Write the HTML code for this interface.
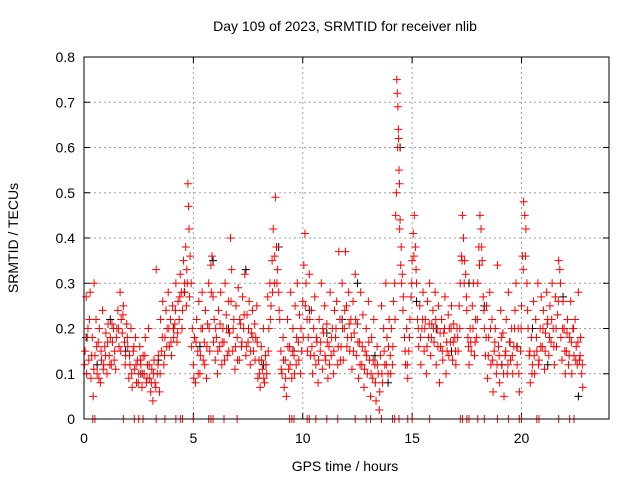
<!DOCTYPE html>
<html><head><meta charset="utf-8"><style>
body{margin:0;background:#fff;font-family:"Liberation Sans",sans-serif;}
svg text{font-family:"Liberation Sans",sans-serif;font-size:14px;fill:#000;}
</style></head><body>
<svg id="chart" width="640" height="480" viewBox="0 0 640 480">
<rect width="640" height="480" fill="#fff"/>
<text x="345" y="31" text-anchor="middle">Day 109 of 2023, SRMTID for receiver nlib</text>
<g id="grid"></g>
<g id="axes"></g>
<g id="marks"></g>
<rect x="84" y="57" width="525" height="362" fill="none" stroke="#000" stroke-width="1"/>
<text x="345" y="471" text-anchor="middle">GPS time / hours</text>
<text transform="translate(18,238) rotate(-90)" text-anchor="middle">SRMTID / TECUs</text>
</svg>
<script>
const xTicks=[0,5,10,15,20];
const yTicks=[0,0.1,0.2,0.3,0.4,0.5,0.6,0.7,0.8];
const yTickLabels=["0","0.1","0.2","0.3","0.4","0.5","0.6","0.7","0.8"];
const redPts=[
[0.05,0.15],[0.1,0.27],[0.12,0.1],[0.18,0.2],[0.22,0.13],[0.28,0.28],[0.32,0.09],[0.38,0.18],[0.42,0.05],[0.46,0.3],[0.5,0.14],[0.55,0.22],[0.6,0.1],[0.65,0.17],[0.7,0.2],[0.75,0.08],[0.8,0.13],[0.85,0.24],[0.9,0.12],[0.95,0.16],
[1.0,0.19],[1.05,0.1],[1.1,0.21],[1.15,0.14],[1.2,0.18],[1.25,0.12],[1.3,0.17],[1.35,0.2],[1.4,0.15],[1.45,0.11],[1.5,0.2],[1.55,0.24],[1.6,0.16],[1.65,0.28],[1.7,0.22],[1.75,0.19],[1.8,0.25],[1.85,0.17],[1.9,0.14],[1.95,0.21],
[2.0,0.16],[2.05,0.09],[2.1,0.12],[2.15,0.2],[2.2,0.07],[2.25,0.15],[2.3,0.11],[2.35,0.18],[2.4,0.08],[2.45,0.13],[2.5,0.1],[2.55,0.16],[2.6,0.12],[2.65,0.07],[2.7,0.14],[2.75,0.1],[2.8,0.18],[2.85,0.08],[2.9,0.12],[2.95,0.2],
[3.0,0.09],[3.05,0.06],[3.1,0.11],[3.15,0.04],[3.2,0.13],[3.25,0.08],[3.3,0.33],[3.35,0.1],[3.4,0.14],[3.45,0.06],[3.5,0.22],[3.55,0.15],[3.6,0.26],[3.65,0.12],[3.7,0.18],[3.75,0.24],[3.8,0.2],[3.85,0.28],[3.9,0.16],[3.95,0.22],
[4.0,0.14],[4.05,0.25],[4.1,0.18],[4.15,0.21],[4.2,0.3],[4.25,0.17],[4.3,0.26],[4.35,0.22],[4.4,0.32],[4.45,0.28],[4.5,0.24],[4.55,0.35],[4.6,0.3],[4.65,0.38],[4.7,0.33],[4.75,0.52],[4.78,0.47],[4.8,0.42],[4.85,0.36],[4.9,0.3],[4.95,0.2],
[5.0,0.12],[5.05,0.18],[5.1,0.08],[5.15,0.22],[5.2,0.15],[5.25,0.26],[5.3,0.1],[5.35,0.2],[5.4,0.28],[5.45,0.13],[5.5,0.17],[5.55,0.24],[5.6,0.09],[5.65,0.21],[5.7,0.3],[5.75,0.15],[5.8,0.34],[5.85,0.36],[5.9,0.27],[5.95,0.22],
[6.0,0.13],[6.05,0.18],[6.1,0.1],[6.15,0.24],[6.2,0.16],[6.25,0.28],[6.3,0.12],[6.35,0.2],[6.4,0.17],[6.45,0.3],[6.5,0.23],[6.55,0.14],[6.6,0.26],[6.65,0.19],[6.7,0.4],[6.75,0.33],[6.8,0.15],[6.85,0.22],[6.9,0.11],[6.95,0.25],
[7.0,0.18],[7.05,0.29],[7.1,0.13],[7.15,0.21],[7.2,0.16],[7.25,0.27],[7.3,0.2],[7.35,0.32],[7.4,0.14],[7.45,0.23],[7.5,0.17],[7.55,0.26],[7.6,0.12],[7.65,0.19],[7.7,0.24],[7.75,0.15],[7.8,0.21],[7.85,0.18],[7.9,0.25],[7.95,0.09],
[8.0,0.13],[8.05,0.07],[8.1,0.16],[8.15,0.11],[8.2,0.2],[8.25,0.08],[8.3,0.14],[8.35,0.1],[8.4,0.27],[8.45,0.2],[8.5,0.3],[8.55,0.25],[8.6,0.35],[8.65,0.42],[8.7,0.3],[8.75,0.49],[8.8,0.38],[8.85,0.33],[8.9,0.28],[8.95,0.22],
[9.0,0.15],[9.05,0.1],[9.1,0.18],[9.15,0.07],[9.2,0.13],[9.25,0.05],[9.3,0.22],[9.35,0.11],[9.4,0.16],[9.45,0.28],[9.5,0.09],[9.55,0.2],[9.6,0.14],[9.65,0.25],[9.7,0.12],[9.75,0.3],[9.8,0.17],[9.85,0.23],[9.9,0.1],[9.95,0.15],
[10.0,0.26],[10.05,0.34],[10.1,0.41],[10.15,0.3],[10.2,0.22],[10.25,0.18],[10.3,0.32],[10.35,0.14],[10.4,0.24],[10.45,0.1],[10.5,0.2],[10.55,0.27],[10.6,0.12],[10.65,0.17],[10.7,0.08],[10.75,0.22],[10.8,0.15],[10.85,0.3],[10.9,0.11],[10.95,0.19],
[11.0,0.25],[11.05,0.13],[11.1,0.21],[11.15,0.09],[11.2,0.16],[11.25,0.28],[11.3,0.14],[11.35,0.2],[11.4,0.1],[11.45,0.24],[11.5,0.18],[11.55,0.26],[11.6,0.12],[11.65,0.37],[11.7,0.22],[11.75,0.16],[11.8,0.3],[11.85,0.13],[11.9,0.2],[11.95,0.37],
[12.0,0.25],[12.05,0.18],[12.1,0.28],[12.15,0.15],[12.2,0.22],[12.25,0.11],[12.3,0.26],[12.35,0.19],[12.4,0.32],[12.45,0.14],[12.5,0.21],[12.55,0.09],[12.6,0.17],[12.65,0.28],[12.7,0.12],[12.75,0.23],[12.8,0.07],[12.85,0.15],[12.9,0.2],[12.95,0.1],
[13.0,0.26],[13.05,0.13],[13.1,0.05],[13.15,0.18],[13.2,0.09],[13.25,0.22],[13.3,0.12],[13.35,0.04],[13.4,0.16],[13.45,0.1],[13.5,0.02],[13.55,0.14],[13.6,0.25],[13.65,0.08],[13.7,0.2],[13.75,0.12],[13.8,0.3],[13.85,0.18],[13.9,0.1],[13.95,0.22],
[14.0,0.14],[14.05,0.2],[14.1,0.12],[14.15,0.26],[14.2,0.3],[14.25,0.45],[14.28,0.5],[14.3,0.75],[14.32,0.72],[14.35,0.69],[14.37,0.64],[14.4,0.55],[14.42,0.52],[14.45,0.44],[14.5,0.38],[14.55,0.32],[14.6,0.27],[14.65,0.18],[14.7,0.12],[14.75,0.2],[14.8,0.09],[14.85,0.15],[14.9,0.22],[14.95,0.27],
[15.0,0.35],[15.05,0.41],[15.1,0.45],[15.15,0.38],[15.2,0.3],[15.25,0.22],[15.3,0.16],[15.35,0.25],[15.4,0.12],[15.45,0.2],[15.5,0.28],[15.55,0.15],[15.6,0.22],[15.65,0.1],[15.7,0.26],[15.75,0.18],[15.8,0.3],[15.85,0.14],[15.9,0.21],[15.95,0.24],
[16.0,0.17],[16.05,0.28],[16.1,0.12],[16.15,0.2],[16.2,0.25],[16.25,0.08],[16.3,0.16],[16.35,0.22],[16.4,0.13],[16.45,0.19],[16.5,0.27],[16.55,0.1],[16.6,0.15],[16.65,0.23],[16.7,0.2],[16.75,0.17],[16.8,0.25],[16.85,0.13],[16.9,0.21],[16.95,0.18],
[17.0,0.12],[17.05,0.2],[17.1,0.15],[17.15,0.25],[17.2,0.3],[17.25,0.36],[17.3,0.45],[17.35,0.4],[17.4,0.35],[17.45,0.32],[17.5,0.24],[17.55,0.18],[17.6,0.12],[17.65,0.2],[17.7,0.15],[17.75,0.25],[17.8,0.3],[17.85,0.14],[17.9,0.22],[17.95,0.18],
[18.0,0.3],[18.05,0.38],[18.1,0.45],[18.15,0.42],[18.2,0.35],[18.25,0.27],[18.3,0.2],[18.35,0.14],[18.4,0.25],[18.45,0.09],[18.5,0.18],[18.55,0.28],[18.6,0.12],[18.65,0.22],[18.7,0.06],[18.75,0.15],[18.8,0.2],[18.85,0.1],[18.9,0.34],[18.95,0.16],
[19.0,0.08],[19.05,0.24],[19.1,0.12],[19.15,0.19],[19.2,0.05],[19.25,0.14],[19.3,0.22],[19.35,0.1],[19.4,0.28],[19.45,0.17],[19.5,0.13],[19.55,0.2],[19.6,0.1],[19.65,0.16],[19.7,0.24],[19.75,0.3],[19.8,0.12],[19.85,0.2],[19.9,0.06],[19.95,0.15],
[20.0,0.25],[20.05,0.36],[20.1,0.48],[20.15,0.45],[20.2,0.42],[20.25,0.3],[20.3,0.2],[20.35,0.14],[20.4,0.08],[20.45,0.18],[20.5,0.12],[20.55,0.26],[20.6,0.1],[20.65,0.22],[20.7,0.15],[20.75,0.3],[20.8,0.13],[20.85,0.2],[20.9,0.27],[20.95,0.16],
[21.0,0.24],[21.05,0.11],[21.1,0.19],[21.15,0.28],[21.2,0.22],[21.25,0.14],[21.3,0.25],[21.35,0.17],[21.4,0.3],[21.45,0.2],[21.5,0.12],[21.55,0.27],[21.6,0.16],[21.65,0.23],[21.7,0.35],[21.75,0.33],[21.8,0.18],[21.85,0.13],[21.9,0.26],[21.95,0.2],
[22.0,0.1],[22.05,0.15],[22.1,0.22],[22.15,0.12],[22.2,0.18],[22.25,0.26],[22.3,0.1],[22.35,0.2],[22.4,0.14],[22.45,0.22],[22.5,0.16],[22.55,0.12],[22.6,0.28],[22.65,0.13],[22.7,0.18],[22.75,0.1],[22.8,0.07]];
const redPts2=[
[0.02,0.12],[0.15,0.18],[0.25,0.22],[0.35,0.14],[0.45,0.11],[0.58,0.16],[0.68,0.09],[0.78,0.15],[0.88,0.11],[0.98,0.14],[1.08,0.17],[1.18,0.12],[1.28,0.21],[1.38,0.13],[1.48,0.18],[1.58,0.2],[1.68,0.15],[1.78,0.23],[1.88,0.12],[1.98,0.18],
[2.08,0.14],[2.18,0.1],[2.28,0.16],[2.38,0.12],[2.48,0.08],[2.58,0.13],[2.68,0.1],[2.78,0.14],[2.88,0.09],[2.98,0.12],[3.08,0.08],[3.18,0.1],[3.28,0.07],[3.38,0.12],[3.48,0.1],[3.58,0.18],[3.68,0.14],[3.78,0.16],[3.88,0.2],[3.98,0.17],
[4.08,0.2],[4.18,0.24],[4.28,0.19],[4.38,0.27],[4.48,0.2],[4.58,0.28],[4.68,0.25],[4.72,0.3],[4.82,0.27],[4.92,0.16],[5.02,0.09],[5.12,0.17],[5.22,0.1],[5.32,0.14],[5.42,0.2],[5.52,0.12],[5.62,0.16],[5.72,0.2],[5.82,0.28],[5.92,0.17],
[6.02,0.2],[6.12,0.15],[6.22,0.21],[6.32,0.17],[6.42,0.13],[6.52,0.2],[6.62,0.15],[6.72,0.26],[6.82,0.2],[6.92,0.16],[7.02,0.13],[7.12,0.22],[7.22,0.17],[7.32,0.23],[7.42,0.16],[7.52,0.2],[7.62,0.15],[7.72,0.18],[7.82,0.13],[7.92,0.17],
[8.02,0.1],[8.12,0.13],[8.22,0.09],[8.32,0.12],[8.42,0.15],[8.52,0.22],[8.62,0.28],[8.72,0.36],[8.82,0.3],[8.92,0.24],[9.02,0.11],[9.12,0.13],[9.22,0.09],[9.32,0.16],[9.42,0.12],[9.52,0.15],[9.62,0.1],[9.72,0.18],[9.82,0.13],[9.92,0.2],
[10.02,0.18],[10.12,0.25],[10.22,0.15],[10.32,0.22],[10.42,0.16],[10.52,0.14],[10.62,0.18],[10.72,0.13],[10.82,0.17],[10.92,0.2],[11.02,0.14],[11.12,0.17],[11.22,0.12],[11.32,0.18],[11.42,0.15],[11.52,0.2],[11.62,0.16],[11.72,0.13],[11.82,0.2],[11.92,0.24],
[12.02,0.16],[12.12,0.21],[12.22,0.18],[12.32,0.15],[12.42,0.22],[12.52,0.17],[12.62,0.12],[12.72,0.16],[12.82,0.11],[12.92,0.14],[13.02,0.17],[13.12,0.1],[13.22,0.13],[13.32,0.08],[13.42,0.12],[13.52,0.06],[13.62,0.1],[13.72,0.15],[13.82,0.12],[13.92,0.16],
[14.02,0.1],[14.12,0.16],[14.22,0.22],[14.34,0.6],[14.38,0.62],[14.43,0.42],[14.48,0.34],[14.52,0.3],[14.58,0.24],[14.68,0.15],[14.78,0.12],[14.88,0.18],[14.98,0.3],[15.08,0.36],[15.18,0.33],[15.28,0.2],[15.38,0.18],[15.48,0.22],[15.58,0.2],[15.68,0.16],
[15.78,0.21],[15.88,0.18],[15.98,0.2],[16.08,0.22],[16.18,0.16],[16.28,0.19],[16.38,0.15],[16.48,0.2],[16.58,0.17],[16.68,0.14],[16.78,0.2],[16.88,0.17],[16.98,0.15],[17.08,0.18],[17.18,0.2],[17.28,0.35],[17.38,0.3],[17.48,0.27],[17.58,0.16],[17.68,0.17],
[17.78,0.2],[17.88,0.17],[17.98,0.22],[18.08,0.34],[18.18,0.38],[18.28,0.24],[18.38,0.18],[18.48,0.14],[18.58,0.2],[18.68,0.13],[18.78,0.17],[18.88,0.12],[18.98,0.14],[19.08,0.18],[19.18,0.1],[19.28,0.15],[19.38,0.12],[19.48,0.17],[19.58,0.14],[19.68,0.2],
[19.78,0.16],[19.88,0.1],[19.98,0.2],[20.08,0.33],[20.18,0.36],[20.28,0.24],[20.38,0.15],[20.48,0.1],[20.58,0.14],[20.68,0.18],[20.78,0.12],[20.88,0.16],[20.98,0.2],[21.08,0.15],[21.18,0.21],[21.28,0.18],[21.38,0.22],[21.48,0.16],[21.58,0.2],[21.68,0.26],
[21.78,0.3],[21.88,0.2],[21.98,0.15],[22.08,0.19],[22.18,0.14],[22.28,0.17],[22.38,0.2],[22.48,0.13],[22.58,0.17],[22.68,0.14],[22.78,0.12]];
const blackPts=[[0.1,0.18],[0.6,0.12],[1.2,0.22],[1.9,0.15],[2.6,0.1],[3.4,0.13],[4.1,0.2],[4.6,0.28],[5.3,0.16],[5.9,0.35],[6.6,0.2],[7.4,0.33],[8.2,0.12],[8.9,0.38],[9.6,0.15],[10.3,0.24],[11.1,0.19],[11.8,0.22],[12.5,0.3],[13.3,0.14],[13.9,0.08],[14.45,0.6],[15.2,0.26],[16.1,0.2],[16.8,0.15],[17.6,0.3],[18.3,0.25],[19.1,0.12],[19.8,0.16],[20.5,0.2],[21.2,0.12],[21.9,0.27],[22.6,0.05]];
const zeroT=[0.4,0.5,1.8,2.3,2.5,2.7,3.3,3.7,4.2,4.4,4.5,5.0,5.7,5.8,5.9,6.4,7.0,9.4,9.5,9.6,10.2,10.3,10.6,11.1,11.6,12.4,12.9,13.1,13.6,14.1,14.2,14.4,14.8,15.0,15.8,17.2,17.3,17.5,17.6,18.0,18.3,18.9,19.4,19.9,20.0,20.7,20.8,21.7,22.2,22.4];
const ns="http://www.w3.org/2000/svg";
const X0=84,X1=609,Y0=419,Y1=57;
function xs(t){return X0+(t/24)*(X1-X0);}
function ys(v){return Y0-(v/0.8)*(Y0-Y1);}
const grid=document.getElementById('grid'),axes=document.getElementById('axes'),marks=document.getElementById('marks');
function mk(tag,at,parent){const e=document.createElementNS(ns,tag);for(const k in at)e.setAttribute(k,at[k]);parent.appendChild(e);return e;}
yTicks.forEach((v,i)=>{const y=ys(v);
 if(i>0&&i<yTicks.length-1){const g=mk('line',{x1:X0,x2:X1,y1:y,y2:y,stroke:'#a0a0a0','stroke-dasharray':'2,3'},grid);
 
 }
 mk('line',{x1:X0,x2:X0+6,y1:y,y2:y,stroke:'#000'},axes);mk('line',{x1:X1-6,x2:X1,y1:y,y2:y,stroke:'#000'},axes);
 const t=mk('text',{x:X0-9,y:y+5,'text-anchor':'end'},axes);t.textContent=yTickLabels[i];
 
 });
xTicks.forEach(v=>{const x=xs(v);
 if(v>0){const g=mk('line',{x1:x,x2:x,y1:Y0,y2:Y1,stroke:'#a0a0a0','stroke-dasharray':'2,3'},grid);
 
 }
 mk('line',{x1:x,x2:x,y1:Y0,y2:Y0-6,stroke:'#000'},axes);mk('line',{x1:x,x2:x,y1:Y1,y2:Y1+6,stroke:'#000'},axes);
 const t=mk('text',{x:x,y:Y0+24,'text-anchor':'middle'},axes);t.textContent=String(v);
 
 });
function plus(t,v,c,name){const x=xs(t),y=ys(v);
 const p=mk('path',{d:`M${x-4},${y}H${x+4}M${x},${y-4}V${y+4}`,stroke:c,'stroke-width':1,fill:'none'},marks);
 
 }
blackPts.forEach(p=>plus(p[0],p[1],'#000','black-point'));
redPts.forEach(p=>plus(p[0],p[1],'#f00','red-point'));
redPts2.forEach(p=>plus(p[0],p[1],'#f00','red-point'));
zeroT.forEach(t=>plus(t,0,'#f00','zero-point'));
</script>
</body></html>
